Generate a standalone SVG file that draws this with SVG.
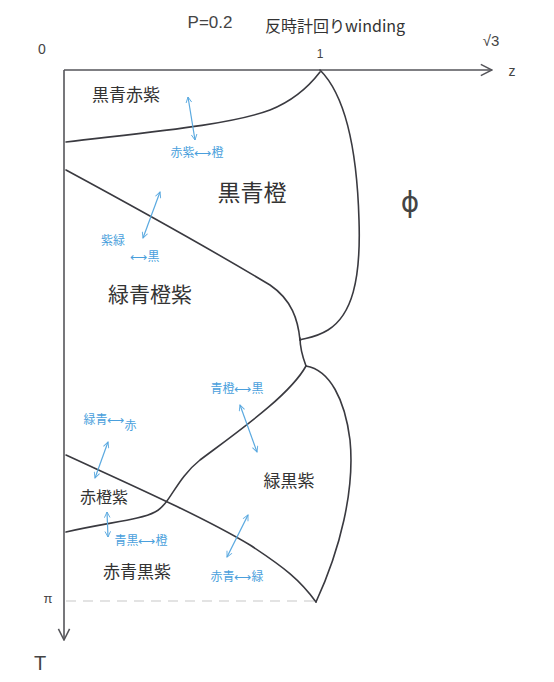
<svg xmlns="http://www.w3.org/2000/svg" width="554" height="682" viewBox="0 0 554 682">
<style>
.pen{fill:none;stroke:#3a3a40;stroke-width:1.6;stroke-linecap:round;stroke-linejoin:round}
.ax{fill:none;stroke:#55555a;stroke-width:1.6}
.blu{fill:none;stroke:#5aa9e0;stroke-width:1.2}
.t{font-family:"Noto Sans CJK JP","Noto Sans CJK SC",sans-serif;fill:#333}
.b{font-family:"Noto Sans CJK JP","Noto Sans CJK SC",sans-serif;fill:#4a9fdc;font-size:12px}
.h{font-family:"Liberation Sans","DejaVu Sans",sans-serif;fill:#444}
</style>
<defs>
<marker id="ah" viewBox="0 0 10 10" refX="9" refY="5" markerWidth="7" markerHeight="7" orient="auto-start-reverse" markerUnits="userSpaceOnUse">
<path d="M1,1 L9,5 L1,9" fill="none" stroke="#5aa9e0" stroke-width="1.3"/>
</marker>
<marker id="axh" viewBox="0 0 10 10" refX="9" refY="5" markerWidth="14" markerHeight="14" orient="auto" markerUnits="userSpaceOnUse">
<path d="M1,1 L9,5 L1,9" fill="none" stroke="#55555a" stroke-width="1.1"/>
</marker>
</defs>
<rect width="554" height="682" fill="#fff"/>
<g id="title">
<text class="h" x="210" y="28" font-size="17" text-anchor="middle">P=0.2</text>
<text class="t" x="265" y="32" font-size="16">反時計回りwinding</text>
</g>
<g id="axes">
<path class="ax" d="M64,70 L492,70" marker-end="url(#axh)"/>
<path class="ax" d="M64,70 L64,640" marker-end="url(#axh)"/>
<path d="M66,601 L316,601" fill="none" stroke="#c8c8c8" stroke-width="1.2" stroke-dasharray="10 7"/>
<text class="h" x="42" y="54" font-size="14" text-anchor="middle">0</text>
<text class="h" x="320" y="58" font-size="12" text-anchor="middle">1</text>
<text class="h" x="491" y="46" font-size="15" text-anchor="middle">√3</text>
<text class="h" x="512" y="76" font-size="14" text-anchor="middle">z</text>
<text class="h" x="48" y="603" font-size="13" text-anchor="middle">π</text>
<text class="h" x="40" y="670" font-size="20" text-anchor="middle">T</text>
</g>
<g id="connectors">
<path class="pen" d="M320,70 C345,95 357,150 359,220 C361,280 352,315 328,330 C315,338 305,338 300,340"/>
<path class="pen" d="M300,338 C300,350 303,358 306,366"/>
<path class="pen" d="M306,366 C330,370 345,400 350,440 C355,490 340,550 316,602"/>
<path class="pen" d="M66,142 C150,132 230,125 270,110 C295,100 310,85 320,72"/>
<path class="pen" d="M66,170 C140,210 220,255 270,285 C292,300 298,320 300,340"/>
<path class="pen" d="M306,366 C290,395 240,430 200,460 C175,480 170,505 155,512 C140,520 110,522 66,532"/>
<path class="pen" d="M66,455 C120,480 200,515 250,545 C285,568 300,580 316,602"/>
<path class="blu" d="M188,97 L195,140" marker-start="url(#ah)" marker-end="url(#ah)"/>
<path class="blu" d="M160,192 L143,238" marker-start="url(#ah)" marker-end="url(#ah)"/>
<path class="blu" d="M240,405 L257,452" marker-start="url(#ah)" marker-end="url(#ah)"/>
<path class="blu" d="M108,442 L95,478" marker-start="url(#ah)" marker-end="url(#ah)"/>
<path class="blu" d="M248,515 L227,557" marker-start="url(#ah)" marker-end="url(#ah)"/>
<path class="blu" d="M107,512 L108,537" marker-start="url(#ah)" marker-end="url(#ah)"/>
</g>
<g id="r1"><text class="t" x="126" y="101" font-size="17" text-anchor="middle">黒青赤紫</text></g>
<g id="r2"><text class="t" x="252" y="201" font-size="23" text-anchor="middle">黒青橙</text></g>
<g id="r3"><text class="t" x="150" y="302" font-size="21" text-anchor="middle">緑青橙紫</text></g>
<g id="r4"><text class="t" x="104" y="503" font-size="16" text-anchor="middle">赤橙紫</text></g>
<g id="r5"><text class="t" x="289" y="487" font-size="17" text-anchor="middle">緑黒紫</text></g>
<g id="r6"><text class="t" x="137" y="578" font-size="17" text-anchor="middle">赤青黒紫</text></g>
<g id="r7"><text class="h" x="410" y="212" font-size="28" text-anchor="middle" style="font-family:'DejaVu Sans',sans-serif">ϕ</text></g>
<g id="l1"><text class="b" x="197" y="157" text-anchor="middle">赤紫⟷橙</text></g>
<g id="l2"><text class="b" x="113" y="245" text-anchor="middle">紫緑</text><text class="b" x="145" y="261" text-anchor="middle">⟷黒</text></g>
<g id="l3"><text class="b" x="237" y="393" text-anchor="middle">青橙⟷黒</text></g>
<g id="l4"><text class="b" x="110" y="424" text-anchor="middle">緑青⟷<tspan dy="6">赤</tspan></text></g>
<g id="l5"><text class="b" x="141" y="545" text-anchor="middle">青黒⟷橙</text></g>
<g id="l6"><text class="b" x="237" y="581" text-anchor="middle">赤青⟷緑</text></g>
</svg>
